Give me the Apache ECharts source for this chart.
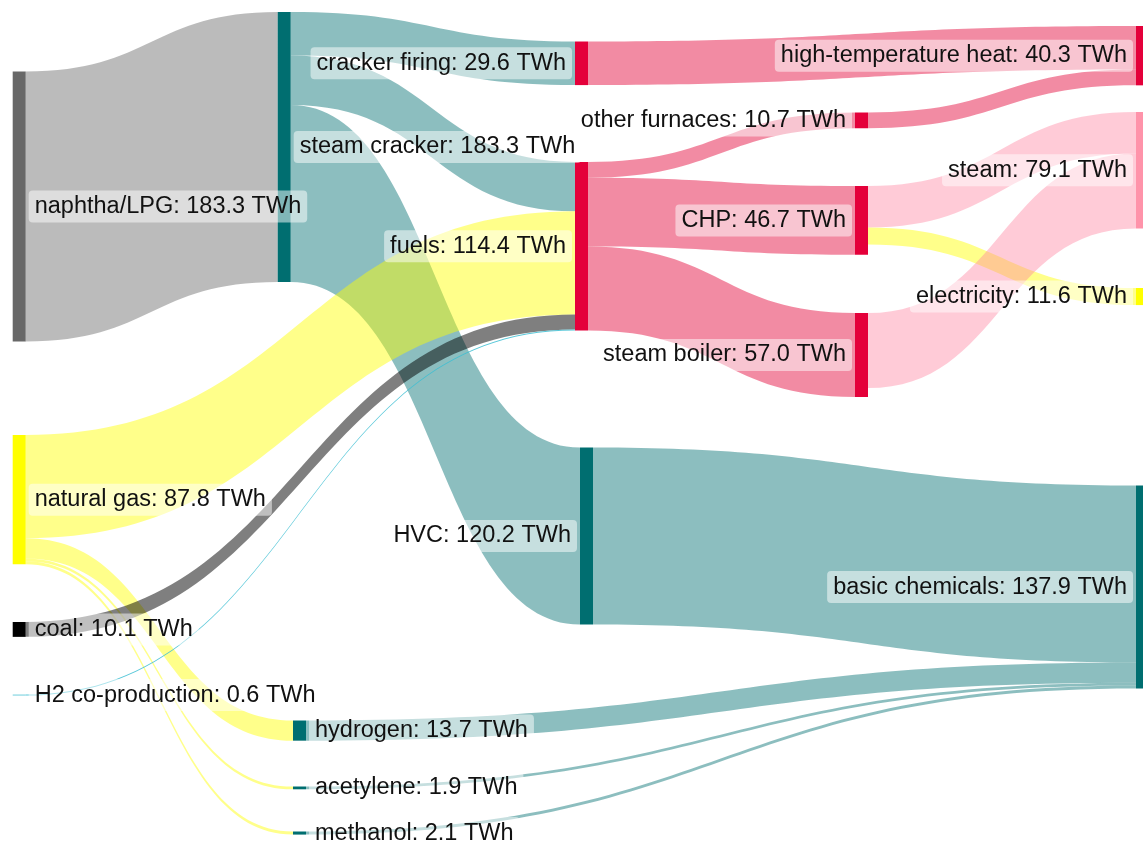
<!DOCTYPE html>
<html>
<head>
<meta charset="utf-8">
<script src="https://cdn.jsdelivr.net/npm/echarts@6/dist/echarts.min.js"></script>
</head>
<body style="margin:0">
<div id="main" style="width:1143px;height:846px;"></div>
<script type="text/javascript">
// nodes, top to bottom inside each column
var nodeNames = ['naphtha/LPG', 'natural gas', 'coal', 'H2 co-production',
    'steam cracker', 'hydrogen', 'acetylene', 'methanol',
    'cracker firing', 'fuels', 'HVC',
    'other furnaces', 'CHP', 'steam boiler',
    'high-temperature heat', 'steam', 'electricity', 'basic chemicals'];
var nodeValues = [183.3, 87.8, 10.1, 0.6,
    183.3, 13.7, 1.9, 2.1,
    29.6, 114.4, 120.2,
    10.7, 46.7, 57.0,
    40.3, 79.1, 11.6, 137.9];

// flows (TWh)
var linkSources = ['naphtha/LPG', 'steam cracker', 'steam cracker', 'steam cracker',
    'natural gas', 'natural gas', 'natural gas', 'natural gas', 'coal', 'H2 co-production',
    'cracker firing', 'fuels', 'fuels', 'fuels', 'other furnaces',
    'CHP', 'CHP', 'steam boiler',
    'HVC', 'hydrogen', 'acetylene', 'methanol'];
var linkTargets = ['steam cracker', 'cracker firing', 'fuels', 'HVC',
    'fuels', 'hydrogen', 'acetylene', 'methanol', 'fuels', 'fuels',
    'high-temperature heat', 'other furnaces', 'CHP', 'steam boiler', 'high-temperature heat',
    'steam', 'electricity', 'steam',
    'basic chemicals', 'basic chemicals', 'basic chemicals', 'basic chemicals'];
var linkValues = [183.3, 29.6, 33.5, 120.2,
    70.1, 13.7, 1.9, 2.1, 10.1, 0.6,
    29.6, 10.7, 46.7, 57.0, 10.7,
    28.1, 11.6, 51.0,
    120.2, 13.7, 1.9, 2.1];

// layout of the nodes (pixels) and styles
var W = 1143, H = 445;
var nodeX = [12.7, 12.7, 12.7, 12.7, 277.7, 293, 293, 293, 575, 575, 580, 855, 855, 855, 1136, 1136, 1136, 1136];
var nodeY = [71.5, 435, 622, 694.6, 12, 720.5, 786.5, 831.5, 41.5, 162, 447.5, 112.5, 186, 313, 26, 112, 288, 485.5];
var labelSide = ['right', 'right', 'right', 'right', 'right', 'right', 'right', 'right',
    'left', 'left', 'left', 'left', 'left', 'left', 'left', 'left', 'left', 'left'];

var TEAL = '#006e70', RED = '#e4003a', YEL = '#ffff00';
var nodeColors = ['#686868', YEL, '#000000', '#5cc8d8', TEAL, TEAL, TEAL, TEAL,
    RED, RED, TEAL, RED, RED, RED, RED, '#ff93aa', YEL, TEAL];

var cGray = 'rgba(120,120,120,0.5)', cTeal = 'rgba(0,110,112,0.45)', cYel = 'rgba(255,255,0,0.46)',
    cCoal = 'rgba(0,0,0,0.5)', cBlue = 'rgba(60,190,210,0.85)', cRed = 'rgba(227,0,52,0.455)',
    cPink = 'rgba(255,130,160,0.42)';
var linkColors = [cGray, cTeal, cTeal, cTeal,
    cYel, cYel, cYel, cYel, cCoal, cBlue,
    cRed, cRed, cRed, cRed, cRed,
    cPink, cYel, cPink,
    cTeal, cTeal, cTeal, cTeal];

var nodes = nodeNames.map(function (n, i) {
    return {
        name: n,
        value: nodeValues[i],
        localX: nodeX[i] / W,
        localY: nodeY[i] / H,
        itemStyle: { color: nodeColors[i], borderWidth: 0 },
        label: { position: labelSide[i] }
    };
});
var links = linkSources.map(function (s, i) {
    return {
        source: s,
        target: linkTargets[i],
        value: linkValues[i],
        lineStyle: { color: linkColors[i], opacity: 1 }
    };
});

var myChart = echarts.init(document.getElementById('main'));
var option = {
    animation: false,
    series: [{
        type: 'sankey',
        left: 0,
        top: 0,
        width: W,
        height: H,
        nodeWidth: 13,
        nodeGap: 10,
        layoutIterations: 0,
        draggable: false,
        emphasis: { disabled: true },
        lineStyle: { curveness: 0.5 },
        label: {
            show: true,
            distance: 3,
            color: '#111',
            fontFamily: 'Liberation Sans, Arial, sans-serif',
            fontSize: 23.5,
            backgroundColor: 'rgba(255,255,255,0.5)',
            borderRadius: 4,
            padding: [4, 6],
            formatter: function (p) {
                return p.name + ': ' + p.value.toFixed(1) + ' TWh';
            }
        },
        data: nodes,
        links: links
    }]
};
myChart.setOption(option);
</script>
</body>
</html>
